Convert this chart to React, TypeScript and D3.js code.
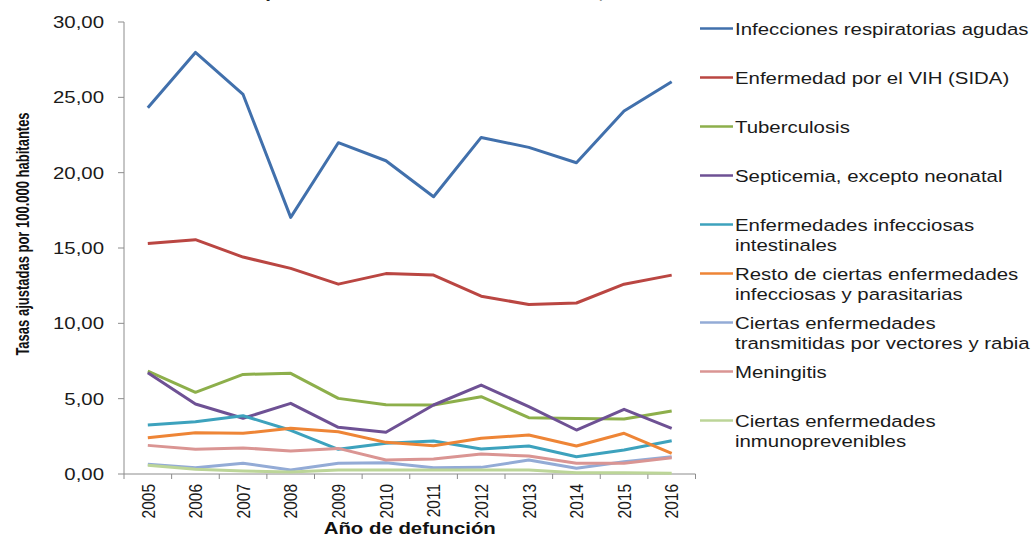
import React from "react";
import * as d3 from "d3";

const years = ["2005","2006","2007","2008","2009","2010","2011","2012","2013","2014","2015","2016"];
const yTicks = [0, 5, 10, 15, 20, 25, 30];

const iraValues = [24.31, 27.98, 25.19, 17.03, 21.99, 20.79, 18.40, 22.34, 21.68, 20.66, 24.09, 26.03];
const vihValues = [15.30, 15.55, 14.40, 13.65, 12.60, 13.30, 13.20, 11.80, 11.25, 11.35, 12.60, 13.20];
const tbcValues = [6.83, 5.42, 6.61, 6.68, 5.02, 4.60, 4.58, 5.13, 3.74, 3.69, 3.65, 4.18];
const septValues = [6.72, 4.65, 3.70, 4.69, 3.10, 2.77, 4.58, 5.90, 4.47, 2.92, 4.29, 3.03];
const intestValues = [3.25, 3.47, 3.87, 2.90, 1.64, 2.04, 2.19, 1.66, 1.86, 1.15, 1.59, 2.21];
const restoValues = [2.41, 2.74, 2.70, 3.03, 2.81, 2.10, 1.88, 2.37, 2.59, 1.86, 2.70, 1.37];
const vectoresValues = [0.64, 0.42, 0.71, 0.27, 0.71, 0.75, 0.42, 0.44, 0.93, 0.38, 0.82, 1.15];
const meningitisValues = [1.90, 1.64, 1.73, 1.53, 1.70, 0.93, 1.00, 1.33, 1.19, 0.71, 0.71, 1.08];
const inmunoValues = [0.58, 0.31, 0.20, 0.13, 0.27, 0.27, 0.27, 0.27, 0.27, 0.09, 0.09, 0.05];

const seriesNames = [
  ["Infecciones respiratorias agudas"],
  ["Enfermedad por el VIH (SIDA)"],
  ["Tuberculosis"],
  ["Septicemia, excepto neonatal"],
  ["Enfermedades infecciosas", "intestinales"],
  ["Resto de ciertas enfermedades", "infecciosas y parasitarias"],
  ["Ciertas enfermedades", "transmitidas por vectores y rabia"],
  ["Meningitis"],
  ["Ciertas enfermedades", "inmunoprevenibles"],
];
const seriesValues = [iraValues, vihValues, tbcValues, septValues, intestValues, restoValues, vectoresValues, meningitisValues, inmunoValues];
const seriesColors = ["#4170AC", "#BA4642", "#8DAF4B", "#6E5194", "#3DA2BD", "#EE8536", "#93ABD6", "#DA9593", "#BCD598"];

const titleText = "Departamento de Norte de Santander, 2005 – 2016";
const yTitle = "Tasas ajustadas por 100.000 habitantes";
const xTitle = "Año de defunción";

const SX = 1.2;
const FONT = "Arial, 'Liberation Sans', sans-serif";

export default function App() {
  const W = 1033, H = 538;
  const x0 = 124, x1 = 695.5, yTop = 22, yBot = 474;
  const x = d3.scalePoint<string>().domain(years).range([x0, x1]).padding(0.5);
  const y = d3.scaleLinear().domain([0, 30]).range([yBot, yTop]);
  const step = x.step();
  const line = d3.line<number>().x((_, i) => x(years[i]) as number).y((d) => y(d));
  const boundaries = d3.range(years.length + 1).map((i) => x0 + i * step);

  const legX = 700, legTextX = 735, legY0 = 28.5, legStep = 49, legLine2 = 20;

  return (
    <div style={{ position: "absolute", left: 0, top: 0 }}>
      <svg width={W} height={H} style={{ display: "block", background: "#fff" }} fontFamily={FONT}>
        <text transform={`translate(481,-2) scale(${SX},1)`} textAnchor="middle" fontSize={17} fontWeight="bold" fill="#222">{titleText}</text>

        {/* axes */}
        <line x1={x0} x2={x0} y1={yTop} y2={yBot} stroke="#8c8c8c" strokeWidth={1} />
        <line x1={x0} x2={x1} y1={yBot} y2={yBot} stroke="#8c8c8c" strokeWidth={1} />
        {yTicks.map((t) => (
          <g key={t}>
            <line x1={x0 - 6} x2={x0} y1={y(t)} y2={y(t)} stroke="#8c8c8c" />
            <text transform={`translate(${x0 - 20},${y(t)}) scale(${SX},1)`} dy="0.36em" textAnchor="end" fontSize={17} fill="#1a1a1a">
              {d3.format(".2f")(t).replace(".", ",")}
            </text>
          </g>
        ))}
        {boundaries.map((b, i) => (
          <line key={i} x1={b} x2={b} y1={yBot} y2={yBot + 5} stroke="#8c8c8c" />
        ))}
        {years.map((yr) => (
          <text key={yr} transform={`translate(${x(yr)},${yBot + 10}) scale(${SX},1) rotate(-90)`} dy="0.36em" textAnchor="end" fontSize={15.5} fill="#1a1a1a">
            {yr}
          </text>
        ))}
        <text transform={`translate(${(x0 + x1) / 2},${534}) scale(${SX},1)`} textAnchor="middle" fontSize={17} fontWeight="bold" fill="#111">{xTitle}</text>
        <text transform={`translate(${22},${234}) scale(1.45,1) rotate(-90)`} dy="0.36em" textAnchor="middle" fontSize={13} fontWeight="bold" fill="#111">{yTitle}</text>

        {/* series */}
        {seriesValues.map((vals, i) => (
          <path key={i} d={line(vals) || ""} fill="none" stroke={seriesColors[i]} strokeWidth={3} strokeLinejoin="round" />
        ))}

        {/* legend */}
        {seriesNames.map((lines, i) => {
          const cy = legY0 + i * legStep;
          return (
            <g key={i}>
              <line x1={legX} x2={legX + 33} y1={cy} y2={cy} stroke={seriesColors[i]} strokeWidth={2.5} />
              {lines.map((ln, j) => (
                <text key={j} transform={`translate(${legTextX},${cy + j * legLine2}) scale(${SX},1)`} dy="0.36em" fontSize={17} fill="#1a1a1a">{ln}</text>
              ))}
            </g>
          );
        })}
      </svg>
    </div>
  );
}
